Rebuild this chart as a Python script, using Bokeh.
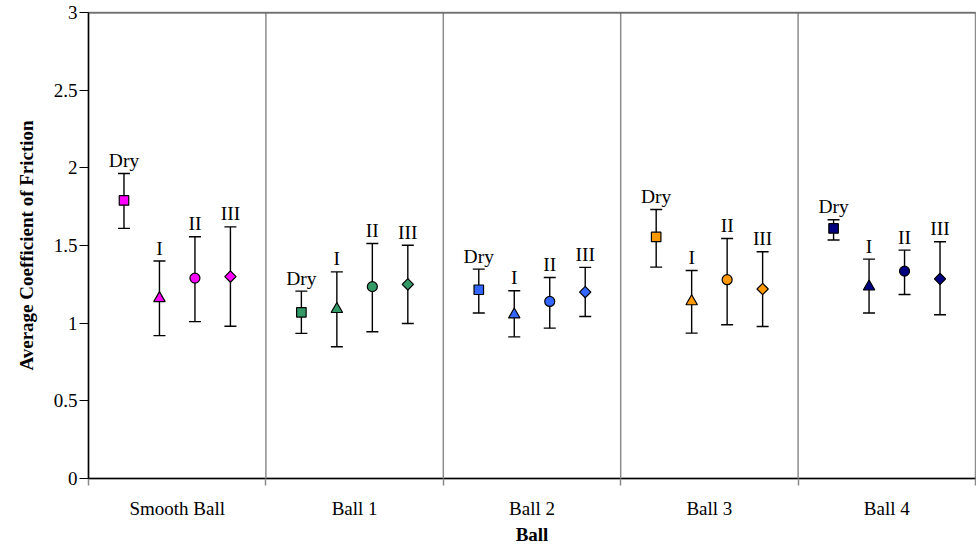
import numpy as np
from bokeh.plotting import figure
from bokeh.models import ColumnDataSource, Whisker, FixedTicker, Span, TeeHead
from bokeh.core.properties import value
from bokeh.embed import file_html
from bokeh.resources import INLINE

# ---- data ----
balls = ["Smooth Ball", "Ball 1", "Ball 2", "Ball 3", "Ball 4"]
ball_colors = ["#FF00FF", "#339966", "#3366FF", "#FF9900", "#000080"]
conditions = ["Dry", "I", "II", "III"]

dry_mean = [1.79, 1.07, 1.215, 1.555, 1.61]
dry_upper = [1.964, 1.206, 1.348, 1.732, 1.666]
dry_lower = [1.61, 0.934, 1.065, 1.361, 1.535]

i_mean = [1.16, 1.09, 1.055, 1.14, 1.235]
i_upper = [1.40, 1.33, 1.209, 1.339, 1.412]
i_lower = [0.92, 0.848, 0.912, 0.936, 1.065]

ii_mean = [1.29, 1.235, 1.14, 1.28, 1.335]
ii_upper = [1.556, 1.513, 1.294, 1.545, 1.47]
ii_lower = [1.01, 0.945, 0.968, 0.99, 1.185]

iii_mean = [1.30, 1.25, 1.20, 1.22, 1.285]
iii_upper = [1.62, 1.502, 1.359, 1.46, 1.524]
iii_lower = [0.98, 0.998, 1.043, 0.979, 1.054]

y_ticks = [0, 0.5, 1, 1.5, 2, 2.5, 3]
y_tick_labels = ["0", "0.5", "1", "1.5", "2", "2.5", "3"]

series = [
    ("Dry", dry_mean, dry_upper, dry_lower, "square", 9.5, 0.0),
    ("I", i_mean, i_upper, i_lower, "triangle", 11.5, 0.0),
    ("II", ii_mean, ii_upper, ii_lower, "circle", 10, 0.0),
    ("III", iii_mean, iii_upper, iii_lower, "square", 8, np.pi / 4),
]

FONT = "Liberation Serif"
n = len(balls)

p = figure(width=976, height=547, x_range=(0, n), y_range=(0, 3),
           output_backend="svg", toolbar_location=None,
           min_border_left=88, min_border_right=1, min_border_top=12, min_border_bottom=69)
p.grid.visible = False
p.background_fill_color = "white"
p.border_fill_color = "white"
p.outline_line_color = "#8c8c8c"
p.outline_line_width = 1.5

# separators
for k in range(1, n):
    p.add_layout(Span(location=k, dimension="height", line_color="#8c8c8c", line_width=1.5))
p.add_layout(Span(location=3, dimension="width", line_color="#555555", line_width=2))

offsets = [0.2, 0.4, 0.6, 0.8]
for j, (lab, mean, up, lo, marker, size, ang) in enumerate(series):
    xs = [g + offsets[j] for g in range(n)]
    src = ColumnDataSource(dict(x=xs, mean=mean, upper=up, lower=lo,
                                color=ball_colors, label=[lab] * n))
    w = Whisker(source=src, base="x", upper="upper", lower="lower",
                line_color="black", line_width=1.4,
                upper_head=TeeHead(size=12, line_color="black", line_width=1.4),
                lower_head=TeeHead(size=12, line_color="black", line_width=1.4))
    p.add_layout(w)
    p.scatter("x", "mean", source=src, marker=marker, size=size, angle=ang,
              fill_color="color", line_color="black", line_width=1.2)
    p.text("x", "upper", text="label", source=src, y_offset=-13,
           text_align="center", text_baseline="alphabetic",
           text_font=value(FONT), text_font_size="19.5px", text_color="black")

# axes
p.xaxis.ticker = FixedTicker(ticks=[g + 0.5 for g in range(n)],
                             minor_ticks=list(range(n + 1)))
p.xaxis.major_label_overrides = {g + 0.5: balls[g] for g in range(n)}
p.xaxis.major_tick_line_color = None
p.xaxis.major_tick_out = 7
p.xaxis.major_tick_in = 0
p.xaxis.minor_tick_line_color = "#8c8c8c"
p.xaxis.minor_tick_line_width = 1.5
p.xaxis.minor_tick_out = 7
p.xaxis.minor_tick_in = 0
p.xaxis.major_label_standoff = 12
p.xaxis.axis_label = "Ball"
p.xaxis.axis_label_standoff = 2

p.yaxis.ticker = FixedTicker(ticks=y_ticks)
p.yaxis.major_label_overrides = dict(zip(y_ticks, y_tick_labels))
p.yaxis.minor_tick_line_color = None
p.yaxis.major_tick_out = 9
p.yaxis.major_tick_in = 0
p.yaxis.major_label_standoff = 2
p.yaxis.axis_label = "Average Coefficient of Friction"
p.yaxis.axis_label_standoff = 14

for ax in (p.xaxis, p.yaxis):
    ax.axis_line_color = "black"
    ax.axis_line_width = 1.5
    ax.major_tick_line_width = 1.2
    ax.major_label_text_font = FONT
    ax.major_label_text_font_size = "19px"
    ax.major_label_text_color = "black"
    ax.axis_label_text_font = FONT
    ax.axis_label_text_font_size = "19px"
    ax.axis_label_text_font_style = "bold"
    ax.axis_label_text_color = "black"
p.yaxis.major_tick_line_color = "black"

open("out.html", "w").write(file_html(p, INLINE))
